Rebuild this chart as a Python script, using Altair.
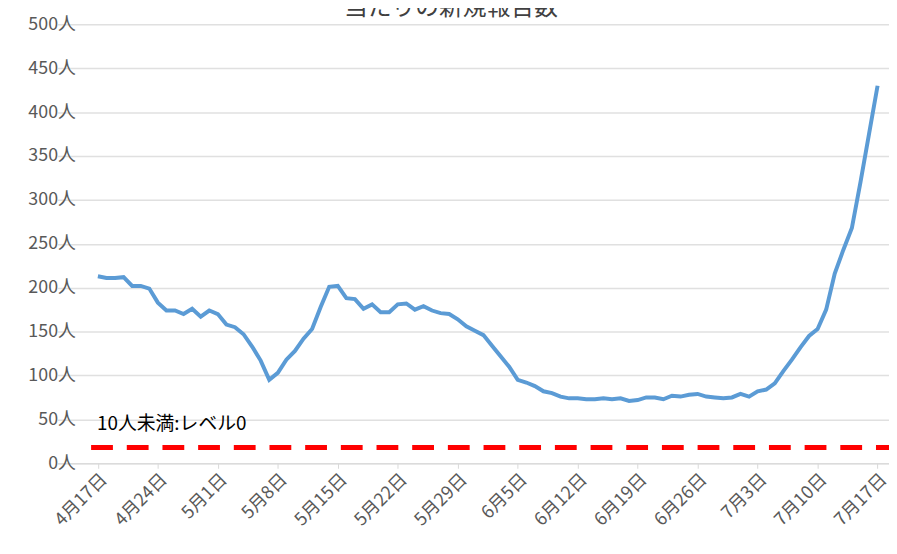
import pandas as pd
import altair as alt

values = [213, 211, 211, 212, 202, 202, 199, 183, 174, 174, 170, 176, 167, 174, 170,
          158, 155, 147, 133, 117, 95, 103, 118, 128, 142, 153, 178, 201, 202, 188,
          187, 176, 181, 172, 172, 181, 182, 175, 179, 174, 171, 170, 164, 156, 151,
          146, 134, 122, 110, 95, 92, 88, 82, 80, 76, 74, 74, 73, 73, 74, 73, 74,
          71, 72, 75, 75, 73, 77, 76, 78, 79, 76, 75, 74, 75, 79, 76, 82, 84, 91, 105,
          118, 132, 145, 153, 175, 216, 243, 268, 320, 375, 430]
dates = pd.date_range("2021-04-17", periods=len(values), freq="D")
tick_dates = pd.date_range("2021-04-17", "2021-07-17", freq="7D")
level0 = 18
level_label = "10人未満:レベル0"
title_text = "当たりの新規報告数"

df = pd.DataFrame({"date": dates, "value": values})
x_dom = [pd.Timestamp("2021-04-12T07:00").isoformat(), pd.Timestamp("2021-07-18T08:00").isoformat()]

base = alt.Chart(df)
line = base.mark_line(color="#5b9bd5", strokeWidth=4).encode(
    x=alt.X("date:T", title=None, scale=alt.Scale(domain=x_dom)).axis(
        values=[d.isoformat() for d in tick_dates],
        format="%-m月%-d日", labelAngle=-45, labelAlign="right", labelBaseline="top",
        labelFontSize=18, labelColor="#595959", labelPadding=2, grid=False,
        labelOverlap=False, labelBound=False,
        domainColor="#d9d9d9", tickColor="#d9d9d9", tickSize=5, labelFont="Noto Sans CJK JP",
    ),
    y=alt.Y("value:Q", title=None, scale=alt.Scale(domain=[0, 500], nice=False)).axis(
        values=list(range(0, 501, 50)), labelExpr="datum.value + '人'",
        labelFontSize=18, labelColor="#595959", domain=False, ticks=False,
        gridColor="#e0e0e0", gridWidth=1.5, labelPadding=-18, labelFont="Noto Sans CJK JP",
    ),
)

rule_df = pd.DataFrame({"x": [pd.Timestamp("2021-04-16T05:00")], "x2": [pd.Timestamp("2021-07-18T08:00")], "y": [level0]})
rule = alt.Chart(rule_df).mark_rule(color="#ff0000", strokeWidth=5, strokeDash=[22, 14]).encode(
    x="x:T", x2="x2:T", y="y:Q"
)
label = alt.Chart(rule_df).mark_text(
    text=level_label, align="left", baseline="middle", fontSize=19, color="black",
    font="Noto Sans CJK JP", dx=6, dy=-24,
).encode(x="x:T", y="y:Q")
title = alt.Chart(rule_df).mark_text(
    text=title_text, align="center", baseline="middle", fontSize=24, color="#404040",
    font="Noto Sans CJK JP",
).encode(x=alt.value(397), y=alt.value(-16))

chart = (line + rule + label + title).properties(
    width=839, height=443, autosize="none",
    padding={"left": 50, "top": 14, "right": 0, "bottom": 81},
).configure_view(stroke=None)
chart.save("out.html", embed_options={"renderer": "svg", "actions": False})
